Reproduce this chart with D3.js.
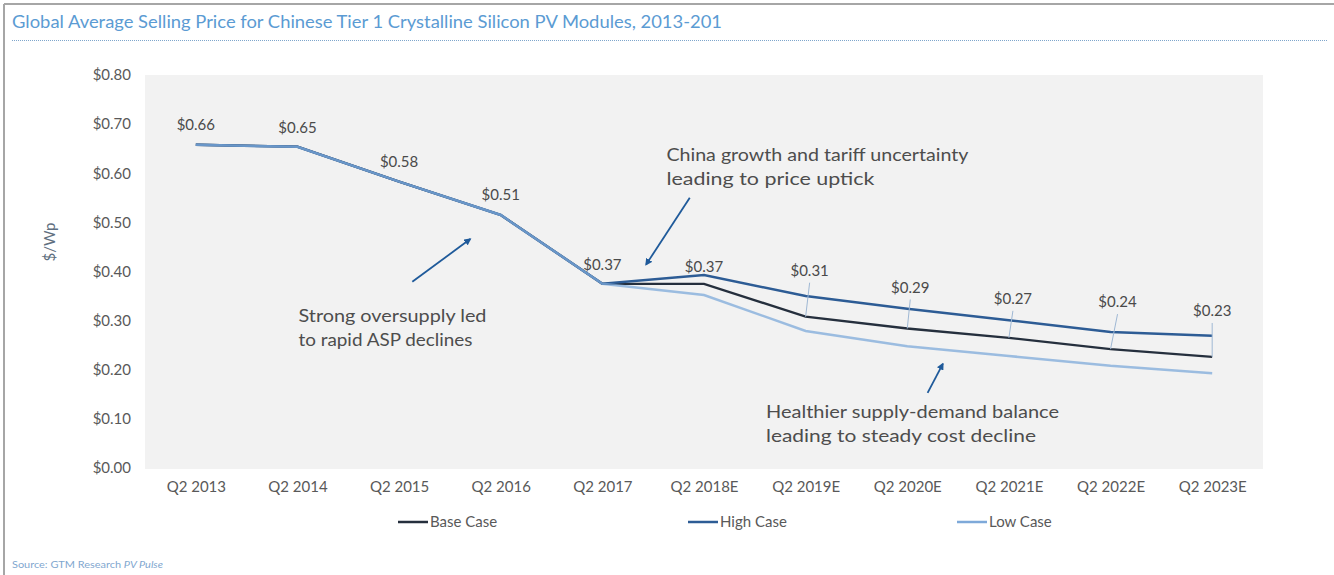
<!DOCTYPE html>
<html><head><meta charset="utf-8">
<script src="https://cdn.jsdelivr.net/npm/d3@7"></script>
<style>
html,body{margin:0;padding:0;background:#fff;}
svg{display:block;font-family:Lato,"Open Sans",sans-serif;}
</style></head>
<body><svg id="c" width="1334" height="575"></svg>
<script>
// ---- data ----
const categories = ["Q2 2013","Q2 2014","Q2 2015","Q2 2016","Q2 2017","Q2 2018E","Q2 2019E","Q2 2020E","Q2 2021E","Q2 2022E","Q2 2023E"];
const baseCase = [0.658,0.654,0.583,0.515,0.375,0.375,0.308,0.284,0.265,0.242,0.226];
const highCase = [0.658,0.654,0.583,0.515,0.375,0.393,0.350,0.324,0.301,0.277,0.269];
const lowCase  = [0.658,0.654,0.583,0.515,0.375,0.352,0.279,0.248,0.228,0.208,0.193];
const valueLabels = ["$0.66","$0.65","$0.58","$0.51","$0.37","$0.37","$0.31","$0.29","$0.27","$0.24","$0.23"];
const yTicks = [0,0.1,0.2,0.3,0.4,0.5,0.6,0.7,0.8];
const seriesNames = ["Base Case","High Case","Low Case"];
const title = "Global Average Selling Price for Chinese Tier 1 Crystalline Silicon PV Modules, 2013-201";
const yTitle = "$/Wp";
const source = "Source: GTM Research ";
const sourceItalic = "PV Pulse";
const notes = [
  {lines:["Strong  oversupply  led","to rapid ASP declines"], at:[1.01,0.309], from:[2.13,0.379], to:[2.70,0.466]},
  {lines:["China growth and tariff uncertainty","leading to price uptick"], at:[4.63,0.638], from:[4.86,0.550], to:[4.43,0.414]},
  {lines:["Healthier  supply-demand  balance","leading to steady cost decline"], at:[5.61,0.114], from:[7.20,0.153], to:[7.35,0.212]}
];

// ---- layout / style ----
const W=1334,H=575;
const plot={l:145,r:1263,t:75,b:468};
const colors={base:"#252f3d",high:"#2d5c95",low:"#7ea9d9"};
const labelDy=[-20,-19,-20,-20,-19,-17,-46,-41,-39,-47,-46];
const labelDx=[0,0,0,0,0,0,4,3,4,7,0];
const noteWidths=[[188,174],[302,208],[293,270]];
const txt="#595959";

const svg=d3.select("#c");
// frame
svg.append("line").attr("x1",4).attr("x2",W).attr("y1",4).attr("y2",4).attr("stroke","#a6a6a6").attr("stroke-width",2);
svg.append("line").attr("x1",4).attr("x2",4).attr("y1",4).attr("y2",H).attr("stroke","#a6a6a6").attr("stroke-width",2);
// title
svg.append("text").attr("x",12).attr("y",28).attr("font-size",17).attr("fill","#5b9bd3")
  .attr("textLength",710).attr("lengthAdjust","spacingAndGlyphs").text(title);
svg.append("line").attr("x1",12).attr("x2",1327).attr("y1",40.5).attr("y2",40.5)
  .attr("stroke","#7fa6cc").attr("stroke-width",1).attr("stroke-dasharray","1,1");

// plot bg
svg.append("rect").attr("x",plot.l).attr("y",plot.t).attr("width",plot.r-plot.l).attr("height",plot.b-plot.t+1).attr("fill","#f2f2f2");

const x=d3.scalePoint().domain(categories).range([plot.l,plot.r]).padding(0.5);
const y=d3.scaleLinear().domain([0,0.8]).range([plot.b,plot.t]);
const xi=d3.scaleLinear().domain([0,categories.length-1]).range([x(categories[0]),x(categories[categories.length-1])]);

// y axis
const ya=svg.append("g").attr("transform",`translate(${plot.l-14},0)`)
  .call(d3.axisLeft(y).tickValues(yTicks).tickFormat(d=>"$"+d.toFixed(2)).tickSize(0).tickPadding(0));
ya.select(".domain").remove();
ya.selectAll("text").attr("font-size",15).attr("fill",txt).attr("font-family","Lato,sans-serif");
// x axis
const xa=svg.append("g").attr("transform",`translate(0,${plot.b+10})`)
  .call(d3.axisBottom(x).tickSize(0).tickPadding(0));
xa.select(".domain").remove();
xa.selectAll("text").attr("font-size",15).attr("fill",txt).attr("font-family","Lato,sans-serif").attr("dy","0.9em");

svg.append("text").attr("transform","translate(55,242) rotate(-90)").attr("text-anchor","middle")
  .attr("font-size",15).attr("fill","#5f6f80").text(yTitle);

// lines
const line=d3.line().x((d,i)=>x(categories[i])).y(d=>y(d));
svg.append("path").datum(baseCase).attr("d",line).attr("fill","none").attr("stroke",colors.base).attr("stroke-width",2.3);
svg.append("path").datum(highCase).attr("d",line).attr("fill","none").attr("stroke",colors.high).attr("stroke-width",2.5);
svg.append("path").datum(lowCase).attr("d",line).attr("fill","none").attr("stroke",colors.low).attr("stroke-width",2.5).attr("stroke-opacity",0.75);

// value labels + leaders
valueLabels.forEach((lab,i)=>{
  const px=x(categories[i]), py=y(baseCase[i]);
  const lx=px+labelDx[i], ly=py+labelDy[i];
  if(i>=6){
    svg.append("line").attr("x1",lx).attr("y1",ly+12).attr("x2",px).attr("y2",py)
      .attr("stroke","#9fb8d4").attr("stroke-width",1);
  }
  svg.append("text").attr("x",lx).attr("y",ly).attr("dy","0.35em").attr("text-anchor","middle")
    .attr("font-size",15).attr("fill","#4a4a4a").text(lab);
});

// annotations
svg.append("defs").append("marker").attr("id","ah").attr("viewBox","0 0 10 10").attr("refX",8).attr("refY",5)
  .attr("markerWidth",4).attr("markerHeight",4).attr("orient","auto")
  .append("path").attr("d","M0,0L10,5L0,10z").attr("fill","#1f5a9a");
notes.forEach((n,k)=>{
  n.lines.forEach((t,j)=>{
    svg.append("text").attr("x",xi(n.at[0])).attr("y",y(n.at[1])+j*24).attr("dy","0.35em")
      .attr("font-size",17).attr("fill","#4d4d4d")
      .attr("textLength",noteWidths[k][j]).attr("lengthAdjust","spacingAndGlyphs").text(t);
  });
  svg.append("line").attr("x1",xi(n.from[0])).attr("y1",y(n.from[1])).attr("x2",xi(n.to[0])).attr("y2",y(n.to[1]))
    .attr("stroke","#1f5a9a").attr("stroke-width",1.8).attr("marker-end","url(#ah)");
});

// legend
const legX=[398,688,957], legC=[colors.base,colors.high,colors.low];
seriesNames.forEach((s,i)=>{
  svg.append("line").attr("x1",legX[i]).attr("x2",legX[i]+30).attr("y1",522).attr("y2",522)
    .attr("stroke",legC[i]).attr("stroke-width",2.5);
  svg.append("text").attr("x",legX[i]+32).attr("y",522).attr("dy","0.35em").attr("font-size",15).attr("fill",txt).text(s);
});

// source
const st=svg.append("text").attr("x",12).attr("y",568).attr("font-size",10).attr("fill","#7fa7cf")
  .attr("textLength",151).attr("lengthAdjust","spacingAndGlyphs");
st.append("tspan").text(source);
st.append("tspan").attr("font-style","italic").text(sourceItalic);
</script></body></html>
